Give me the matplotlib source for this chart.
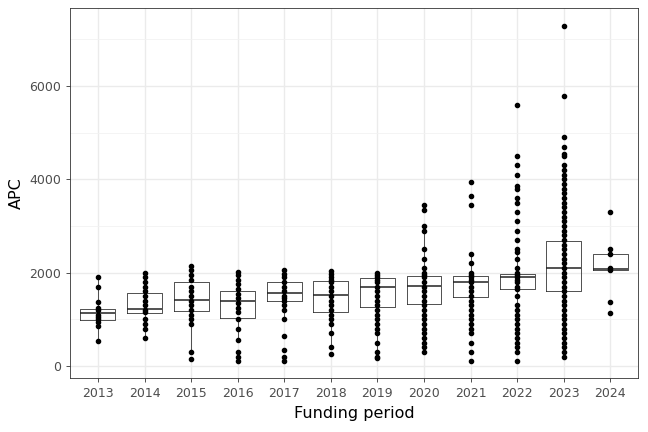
import matplotlib
matplotlib.use("Agg")
import matplotlib.pyplot as plt

years = ["2013","2014","2015","2016","2017","2018","2019","2020","2021","2022","2023","2024"]
q1 = [990,1130,1170,1020,1400,1160,1260,1320,1480,1650,1600,2050]
med = [1130,1230,1420,1390,1560,1530,1690,1720,1800,1900,2110,2080]
q3 = [1220,1560,1800,1610,1810,1830,1890,1930,1940,1980,2680,2400]
wlo = [540,600,300,550,1000,400,300,300,700,1200,300,2050]
whi = [1900,2000,2150,2020,2050,2030,2000,2900,2400,2450,4300,2500]
points = [
 [1900,1700,1380,1250,1200,1100,1050,1000,950,850,540],
 [2000,1900,1800,1700,1600,1500,1400,1300,1200,1150,1000,900,800,600],
 [2150,2050,1950,1850,1700,1600,1500,1400,1300,1200,1100,1000,900,300,150],
 [2020,1950,1850,1750,1650,1550,1450,1350,1250,1150,1000,800,550,300,200,100],
 [2050,1980,1900,1800,1700,1600,1500,1450,1400,1300,1200,1000,650,350,200,100],
 [2030,1980,1900,1850,1800,1700,1600,1500,1400,1300,1200,1100,1000,900,700,400,250],
 [2000,1950,1900,1850,1800,1700,1600,1500,1400,1300,1200,1100,1000,900,800,700,500,300,200,180],
 [3450,3350,3000,2900,2500,2300,2100,2000,1950,1900,1800,1700,1600,1500,1400,1300,1200,1100,1000,900,800,700,600,500,400,300],
 [3950,3650,3450,2400,2200,2000,1950,1900,1850,1800,1700,1600,1500,1400,1300,1200,1100,1000,900,800,700,500,300,100],
 [5600,4500,4300,4100,3850,3800,3600,3500,3300,3100,2900,2700,2500,2450,2300,2100,2000,1950,1900,1850,1800,1700,1650,1500,1300,1200,1100,1000,900,800,700,600,500,400,300,100],
 [7280,5780,4900,4700,4550,4500,4300,4200,4100,4000,3900,3800,3700,3600,3500,3400,3300,3200,3100,3000,2900,2800,2700,2600,2500,2400,2300,2200,2100,2000,1900,1800,1700,1600,1500,1400,1300,1200,1100,1000,900,800,700,600,500,400,300,200],
 [3300,2500,2400,2100,2050,1380,1130],
]

fig = plt.figure(figsize=(6.48,4.32), dpi=100)
ax = fig.add_axes([0.108,0.125,0.877,0.856])
stats = [dict(med=m, q1=a, q3=b, whislo=lo, whishi=hi, fliers=[]) for m,a,b,lo,hi in zip(med,q1,q3,wlo,whi)]
pos = list(range(1,len(years)+1))
ax.bxp(stats, positions=pos, widths=0.75, showfliers=False, showcaps=False,
       boxprops=dict(color="#333333", lw=0.6), whiskerprops=dict(color="#333333", lw=0.6),
       medianprops=dict(color="#222222", lw=1.1), zorder=3)
for p, vals in zip(pos, points):
    ax.plot([p]*len(vals), vals, "o", color="black", ms=3, zorder=4)
ax.set_xlim(0.4, 12.6)
ax.set_ylim(-257, 7670)
ax.set_xticks(pos)
ax.set_xticklabels(years)
ax.set_yticks([0,2000,4000,6000])
ax.set_yticks([1000,3000,5000,7000], minor=True)
ax.grid(True, which="major", color="#EBEBEB", lw=1.0, zorder=0)
ax.grid(True, which="minor", axis="y", color="#F2F2F2", lw=0.6, zorder=0)
ax.set_axisbelow(True)
for s in ax.spines.values():
    s.set_color("#333333"); s.set_linewidth(0.6)
ax.tick_params(colors="#333333", labelcolor="#4D4D4D", labelsize=9, length=3, width=0.6)
ax.tick_params(which="minor", length=0)
ax.set_xlabel("Funding period", fontsize=11.5)
ax.set_ylabel("APC", fontsize=11.5)
fig.savefig("out.png", dpi=100)
